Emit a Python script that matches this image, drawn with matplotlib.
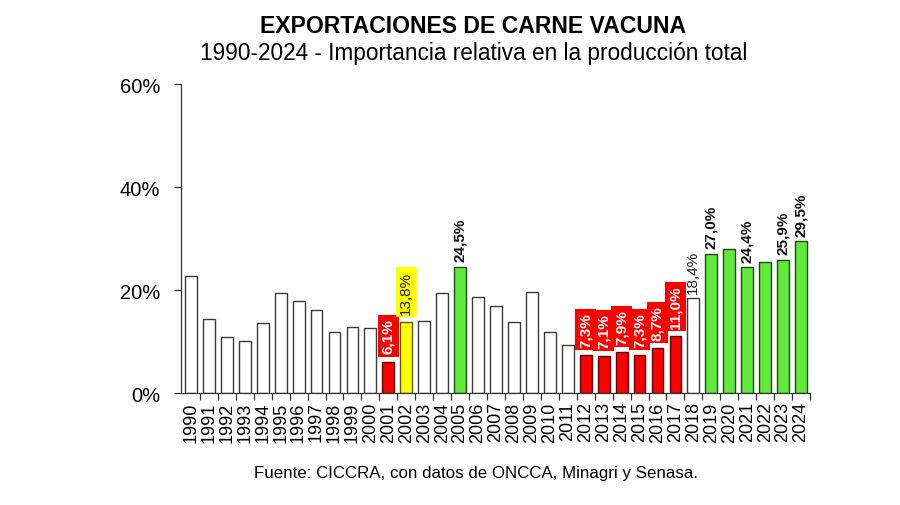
import matplotlib
matplotlib.use("Agg")
import matplotlib.pyplot as plt

plt.rcParams['font.family'] = ['Liberation Sans', 'DejaVu Sans']

years = [str(y) for y in range(1990, 2025)]
values = [22.7, 14.3, 10.9, 10.1, 13.6, 19.4, 17.8, 16.2, 11.9, 12.8,
          12.6, 6.1, 13.8, 14.0, 19.4, 24.5, 18.6, 16.8, 13.7, 19.6,
          11.9, 9.4, 7.3, 7.1, 7.9, 7.3, 8.7, 11.0, 18.4, 27.0,
          27.9, 24.4, 25.5, 25.9, 29.5]
# category: w=white, r=red, y=yellow, g=green
cats = ['w', 'w', 'w', 'w', 'w', 'w', 'w', 'w', 'w', 'w',
        'w', 'r', 'y', 'w', 'w', 'g', 'w', 'w', 'w', 'w',
        'w', 'w', 'r', 'r', 'r', 'r', 'r', 'r', 'w', 'g',
        'g', 'g', 'g', 'g', 'g']
# label style: '' none, 'r' red box, 'y' yellow box, 'b' bold, 'n' normal
label_style = ['', '', '', '', '', '', '', '', '', '',
               '', 'r', 'y', '', '', 'b', '', '', '', '',
               '', '', 'r', 'r', 'r', 'r', 'r', 'r', 'n', 'b',
               '', 'b', '', 'b', 'b']
yticks = [0, 20, 40, 60]

title = "EXPORTACIONES DE CARNE VACUNA"
subtitle = "1990-2024 - Importancia relativa en la producción total"
source = "Fuente: CICCRA, con datos de ONCCA, Minagri y Senasa."

face = {'w': '#FFFFFF', 'r': '#FF0000', 'y': '#FFFF00', 'g': '#5FEA3C'}
edge = {'w': '#3a3a3a', 'r': '#5a0000', 'y': '#5a5a00', 'g': '#1f4a10'}

fig = plt.figure(figsize=(9, 5.06), dpi=100)
ax = fig.add_axes([0.201, 0.2213, 0.699, 0.6107])

x = list(range(len(years)))
ax.bar(x, values, width=0.66, color=[face[c] for c in cats],
       edgecolor=[edge[c] for c in cats], linewidth=1.0, zorder=2)

for i, (v, s) in enumerate(zip(values, label_style)):
    if not s:
        continue
    txt = f"{v:.1f}%".replace('.', ',')
    kw = dict(rotation=90, ha='center', va='bottom', fontsize=11,
              textcoords='offset points', annotation_clip=False)
    if s == 'r':
        ax.annotate(txt, (i, v), xytext=(0, 6), color='white', fontweight='bold',
                    bbox=dict(boxstyle='square,pad=0.22', fc='#FF0000', ec='#FF0000', lw=0), **kw)
    elif s == 'y':
        ax.annotate(txt, (i, v), xytext=(0, 6), color='#222222',
                    bbox=dict(boxstyle='square,pad=0.22', fc='#FFFF00', ec='#FFFF00', lw=0), **kw)
    elif s == 'b':
        ax.annotate(txt, (i, v), xytext=(0, 4), color='#111111', fontweight='bold', **kw)
    else:
        ax.annotate(txt, (i, v), xytext=(0, 4), color='#222222', **kw)

ax.set_xlim(-0.56, len(years) - 0.5)
ax.set_ylim(0, 60)
ax.set_yticks(yticks)
ax.set_yticklabels([f"{t}%" for t in yticks], fontsize=14.5)
ax.set_xticks(x)
ax.set_xticklabels(years, rotation=90, fontsize=13)
ax.tick_params(axis='x', length=0, pad=6)
ax.set_xticks([i + 0.5 for i in x], minor=True)
ax.tick_params(axis='x', which='minor', length=5, width=0.9, color='#333333', direction='out')
ax.tick_params(axis='y', length=5, width=0.9, color='#333333', direction='out', pad=10)
for sp in ['top', 'right']:
    ax.spines[sp].set_visible(False)
for sp in ['left', 'bottom']:
    ax.spines[sp].set_color('#333333')
    ax.spines[sp].set_linewidth(0.9)

fig.text(0.526, 0.948, title, ha='center', va='center', fontsize=16.6, fontweight='bold')
fig.text(0.526, 0.894, subtitle, ha='center', va='center', fontsize=16.3)
fig.text(0.529, 0.064, source, ha='center', va='center', fontsize=12.2)

fig.savefig("out.png", dpi=100)
